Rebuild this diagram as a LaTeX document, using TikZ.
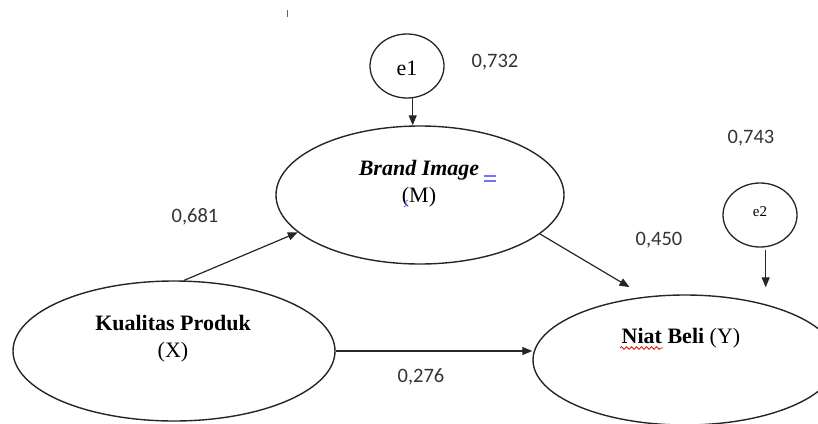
\documentclass[tikz,border=0pt]{standalone}
\usepackage{fontspec}
\setmainfont{Liberation Serif}
\newfontfamily\numfont{Carlito}
\usetikzlibrary{arrows.meta,shapes.geometric,decorations.pathmorphing}
\begin{document}
\begin{tikzpicture}[x=1pt,y=-1pt,
  latent/.style={draw=black!85,line width=1.4pt,ellipse,inner sep=0pt},
  err/.style={draw=black!85,line width=1.3pt,ellipse,inner sep=0pt,minimum width=74pt,minimum height=64pt},
  vtext/.style={align=center,font=\fontsize{22}{27}\selectfont,inner sep=0pt},
  coef/.style={font=\numfont\fontsize{20.5}{24}\selectfont,text=black!80,inner sep=0pt},
  arr/.style={line width=1.2pt,draw=black!85,-{Triangle[length=10pt,width=8pt]}}]
\useasboundingbox (0,0) rectangle (818,423);
\clip (0,0) rectangle (818,423);
% latent variables
\node[latent,minimum width=288pt,minimum height=138pt] (M) at (420,195) {};
\node[latent,minimum width=322pt,minimum height=140pt] (X) at (174,351) {};
\node[latent,minimum width=304pt,minimum height=130pt] (Y) at (685,360) {};
% error terms
\node[err] (e1) at (407,66) {};
\node[err] (e2) at (760,215) {};
\node[font=\fontsize{22}{26}\selectfont,inner sep=0pt] (t1) at (407,68) {e1};
\node[font=\fontsize{15}{18}\selectfont,inner sep=0pt] (t2) at (760,212) {e2};
% texts
\node[vtext] (tM) at (419,184) {\textbf{\textit{Brand Image}}\\(M)};
\node[vtext] (tX) at (173,339) {\textbf{Kualitas Produk}\\(X)};
\node[vtext] (tY) at (681,338) {\textbf{Niat Beli} (Y)};
% editing marks
\draw[red!85!black,line width=0.8pt,decorate,decoration={snake,amplitude=1.3pt,segment length=5pt}] (620,348) -- (663,348);
\draw[blue!55,line width=1.2pt] (484,176) -- (496,176) (484,181) -- (496,181);
\draw[blue!55,line width=0.9pt] (408,200) .. controls (402,201) and (410,205) .. (404,207);
\draw[black!60,line width=0.8pt] (287,10) -- (287,17);
% connectors
\draw[arr] (e1.-80) -- (e1.-80 |- M.north);
\draw[arr,shorten <=3pt,shorten >=7pt] (e2.-80) -- (e2.-80 |- Y.north);
\draw[arr] (X.82.8) -- (M.197.6);
\draw[arr,shorten >=18.5pt] (M.-18.7) -- (Y.122);
\draw[arr] (X.east) -- (X.east -| Y.west);
% coefficients
\node[coef] (c1) at (495,62) {0,732};
\node[coef] (c2) at (751,138) {0,743};
\node[coef] (c3) at (659,240) {0,450};
\node[coef] (c4) at (195,217) {0,681};
\node[coef] (c5) at (421,377) {0,276};
\end{tikzpicture}
\end{document}
